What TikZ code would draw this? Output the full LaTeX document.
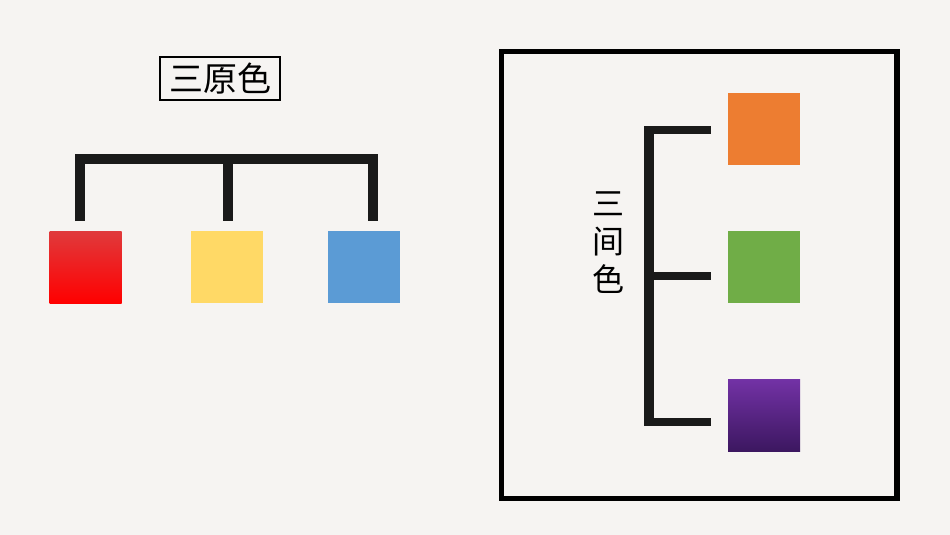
\documentclass[tikz,border=0pt]{standalone}
\usepackage{fontspec}
\newfontfamily\cjk{Noto Sans CJK SC}
\usetikzlibrary{positioning}

\definecolor{paper}{HTML}{F6F4F2}
\definecolor{barblack}{HTML}{1A1A1A}
\definecolor{redtop}{HTML}{E03A3C}
\definecolor{redbot}{HTML}{FF0000}
\definecolor{yellowsw}{HTML}{FFD966}
\definecolor{bluesw}{HTML}{5B9BD5}
\definecolor{orangesw}{HTML}{ED7D31}
\definecolor{greensw}{HTML}{70AD47}
\definecolor{purpletop}{HTML}{7332A6}
\definecolor{purplebot}{HTML}{3C1760}

\tikzset{
	swatch/.style={minimum size=72pt, inner sep=0pt, outer sep=0pt},
	bar/.style={line width=10pt, draw=barblack},
	twig/.style={line width=8pt, draw=barblack},
}

\begin{document}
\begin{tikzpicture}[x=1pt,y=-1pt]

	% paper
	\fill[paper] (0,0) rectangle (950,535);
	\useasboundingbox (0,0) rectangle (950,535);

	% primary colours
	\node[draw=black, line width=2pt, minimum width=120pt, minimum height=43pt,
		inner sep=0pt, font=\cjk\fontsize{34}{40}\selectfont] (primary) at (220,78.5) {三原色};

	\node[swatch, top color=redtop, bottom color=redbot] (red) at (85.5,267) {};
	\node[swatch, fill=yellowsw] (yellow) at (226.5,267) {};
	\node[swatch, fill=bluesw] (blue) at (364,267) {};

	\coordinate (p1) at (80,221);
	\coordinate (p2) at (227.5,221);
	\coordinate (p3) at (373,221);
	\coordinate (q1) at (80,159);
	\coordinate (q2) at (227.5,159);
	\coordinate (q3) at (373,159);

	\draw[bar, line join=miter] (p1) -- (q1) -- (q3) -- (p3);
	\draw[bar] (q2) -- (p2);

	% secondary colours
	\draw[line width=5.5pt, draw=black] (501.5,51.5) rectangle (897,498.5);

	\node[align=center, font=\cjk\fontsize{32}{38}\selectfont] (secondary) at (608,243) {三\\间\\色};

	\node[swatch, fill=orangesw] (orange) at (764,128.5) {};
	\node[swatch, fill=greensw] (green) at (764,267) {};
	\node[swatch, top color=purpletop, bottom color=purplebot] (purple) at (764,415) {};

	\coordinate (s1) at (649,126);
	\coordinate (s3) at (649,426);
	\coordinate (b1) at (654,129.5);
	\coordinate (b2) at (654,275.5);
	\coordinate (b3) at (654,421.5);
	\coordinate (e1) at (711,129.5);
	\coordinate (e2) at (711,275.5);
	\coordinate (e3) at (711,421.5);

	\draw[bar] (s1) -- (s3);
	\foreach \i in {1,2,3}
		\draw[twig] (b\i) -- (e\i);

\end{tikzpicture}
\end{document}
